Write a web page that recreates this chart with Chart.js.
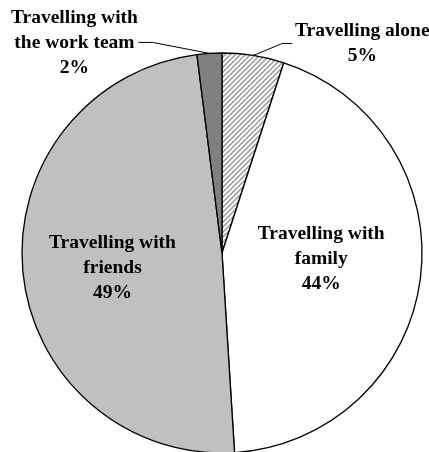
<!DOCTYPE html>
<html>
<head>
<meta charset="utf-8">
<script src="https://cdn.jsdelivr.net/npm/chart.js@4"></script>
<style>
  html, body { margin: 0; padding: 0; background: #fff; }
  #wrap { width: 429px; height: 452px; overflow: hidden; }
</style>
</head>
<body>
<div id="wrap"><canvas id="myChart" width="429" height="470"></canvas></div>
<script>
// data, clockwise from 12 o'clock
const categories = ['Travelling alone', 'Travelling with family', 'Travelling with friends', 'Travelling with the work team'];
const shares = [5, 44, 49, 2];
// label text lines (percent is appended from shares)
const labelLines = [
  ['Travelling alone'],
  ['Travelling with', 'family'],
  ['Travelling with', 'friends'],
  ['Travelling with', 'the work team']
];

function hatch() {
  const p = 5;
  const c = document.createElement('canvas');
  c.width = p; c.height = p;
  const g = c.getContext('2d');
  g.fillStyle = '#fff';
  g.fillRect(0, 0, p, p);
  g.strokeStyle = '#a6a6a6';
  g.lineWidth = 1.8;
  g.beginPath();
  g.moveTo(0, p); g.lineTo(p, 0);
  g.moveTo(-1, 1); g.lineTo(1, -1);
  g.moveTo(p - 1, p + 1); g.lineTo(p + 1, p - 1);
  g.stroke();
  return document.getElementById('myChart').getContext('2d').createPattern(c, 'repeat');
}

// how each label sits relative to its slice
// inside: block centre at frac*radius on the bisector, plus nudge
// outside: leader from rim to elbow, then text block at offset from rim point
const labelPlace = [
  { outside: true, elbow: [29, -12], end: [39, -12], text: [109, -12] },
  { frac: 0.5, nudge: [0, -7] },
  { frac: 0.55, nudge: [0, 5] },
  { outside: true, elbow: [-57, -11], end: [-71, -11], text: [-135, -10] }
];

const labelPlugin = {
  id: 'sliceLabels',
  afterDatasetsDraw(chart) {
    const ctx = chart.ctx;
    const meta = chart.getDatasetMeta(0);
    const total = shares.reduce((a, b) => a + b, 0);
    ctx.save();
    ctx.font = 'bold 19.5px "Liberation Serif", "Times New Roman", serif';
    ctx.fillStyle = '#000';
    ctx.textAlign = 'center';
    ctx.textBaseline = 'middle';
    const lh = 25;
    meta.data.forEach((arc, i) => {
      const p = arc.getProps(['x', 'y', 'startAngle', 'endAngle', 'outerRadius'], true);
      const mid = (p.startAngle + p.endAngle) / 2;
      const lines = labelLines[i].concat([Math.round(shares[i] / total * 100) + '%']);
      const pl = labelPlace[i];
      let cx, cy;
      if (pl.outside) {
        const rx = p.x + Math.cos(mid) * p.outerRadius;
        const ry = p.y + Math.sin(mid) * p.outerRadius;
        ctx.strokeStyle = '#000';
        ctx.lineWidth = 1;
        ctx.beginPath();
        ctx.moveTo(rx, ry);
        ctx.lineTo(rx + pl.elbow[0], ry + pl.elbow[1]);
        ctx.lineTo(rx + pl.end[0], ry + pl.end[1]);
        ctx.stroke();
        cx = rx + pl.text[0];
        cy = ry + pl.text[1];
      } else {
        const r = p.outerRadius * pl.frac;
        cx = p.x + Math.cos(mid) * r + pl.nudge[0];
        cy = p.y + Math.sin(mid) * r + pl.nudge[1];
      }
      const top = cy - (lines.length - 1) * lh / 2;
      lines.forEach((t, k) => ctx.fillText(t, cx, top + k * lh));
    });
    ctx.restore();
  }
};

const ctx = document.getElementById('myChart');
new Chart(ctx, {
  type: 'pie',
  data: {
    labels: categories,
    datasets: [{
      data: shares,
      backgroundColor: [hatch(), '#ffffff', '#c0c0c0', '#808080'],
      borderColor: '#000',
      borderWidth: 1.3,
      hoverOffset: 0
    }]
  },
  options: {
    responsive: false,
    animation: false,
    radius: 200,
    layout: { padding: { left: 22, right: 7, top: 53, bottom: 17 } },
    plugins: {
      legend: { display: false },
      tooltip: { enabled: false }
    }
  },
  plugins: [labelPlugin]
});
</script>
</body>
</html>
